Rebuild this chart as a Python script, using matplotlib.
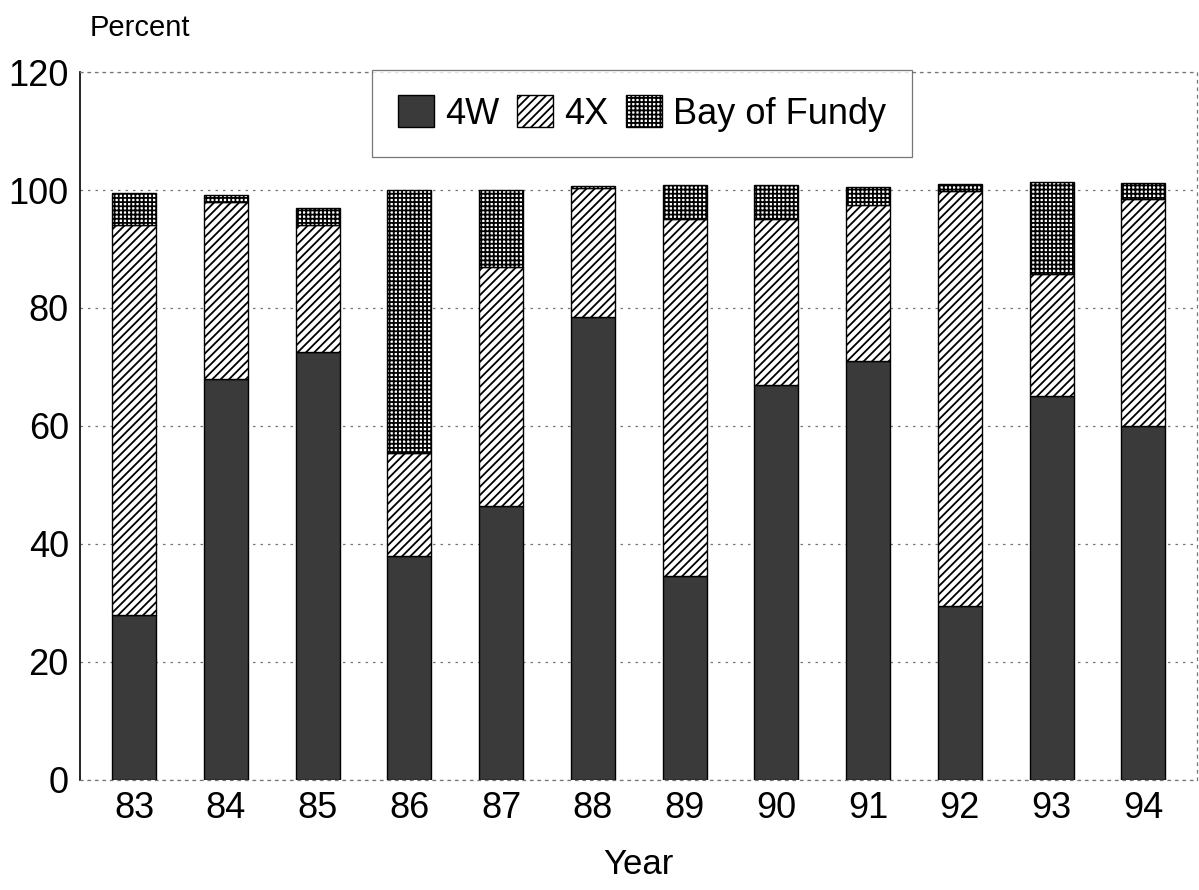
import matplotlib
matplotlib.use("Agg")
import matplotlib.pyplot as plt
import numpy as np

plt.rcParams['font.family'] = ['Liberation Sans', 'DejaVu Sans']
plt.rcParams['hatch.linewidth'] = 1.3

years = ["83", "84", "85", "86", "87", "88", "89", "90", "91", "92", "93", "94"]
share_4w = [28, 68, 72.5, 38, 46.5, 78.5, 34.5, 67, 71, 29.5, 65, 60]
share_4x = [66, 30, 21.5, 17.5, 40.5, 21.8, 60.5, 28, 26.5, 70.3, 20.8, 38.5]
share_bof = [5.5, 1.2, 3, 44.5, 13, 0.4, 5.8, 5.8, 3, 1.2, 15.5, 2.7]
legend_labels = ["4W", "4X", "Bay of Fundy"]

fig = plt.figure(figsize=(11.99, 8.9), dpi=100)
ax = fig.add_axes([0.0667, 0.1236, 0.932, 0.7955])

x = np.arange(len(years))
w = 0.48
ax.bar(x, share_4w, w, color='#3a3a3a', edgecolor='black', linewidth=1.0,
       label=legend_labels[0], zorder=3)
ax.bar(x, share_4x, w, bottom=share_4w, color='white', edgecolor='black',
       hatch='////', linewidth=1.0, label=legend_labels[1], zorder=3)
bottom2 = np.array(share_4w) + np.array(share_4x)
ax.bar(x, share_bof, w, bottom=bottom2, color='white', edgecolor='black',
       hatch='++++', linewidth=1.0, label=legend_labels[2], zorder=3)

ax.set_xlim(-0.59, 11.59)
ax.set_ylim(0, 120)
ax.set_yticks(np.arange(0, 121, 20))
ax.set_xticks(x)
ax.set_xticklabels(years)
ax.tick_params(axis='both', labelsize=26, length=0)
ax.tick_params(axis='x', pad=8)
ax.tick_params(axis='y', pad=8)

ax.yaxis.grid(True, linestyle=(0, (2, 4)), color='#777777', linewidth=0.9, zorder=0)
ax.set_axisbelow(True)

ax.spines['left'].set_linewidth(1.2)
for s in ['top', 'right', 'bottom']:
    ax.spines[s].set_linestyle((0, (2, 4)))
    ax.spines[s].set_color('#777777')
    ax.spines[s].set_linewidth(0.9)

ax.set_xlabel("Year", fontsize=25, labelpad=16)
fig.text(0.075, 0.968, "Percent", fontsize=21, ha='left', va='center')

leg = ax.legend(loc='upper center', bbox_to_anchor=(0.503, 1.003), ncol=3,
                fontsize=26, frameon=True, fancybox=False, edgecolor='#555555',
                handlelength=1.0, handleheight=1.0, handletextpad=0.3,
                columnspacing=0.5, borderpad=0.7, borderaxespad=0.0)
leg.get_frame().set_linewidth(0.9)

fig.savefig("out.png", dpi=100)
